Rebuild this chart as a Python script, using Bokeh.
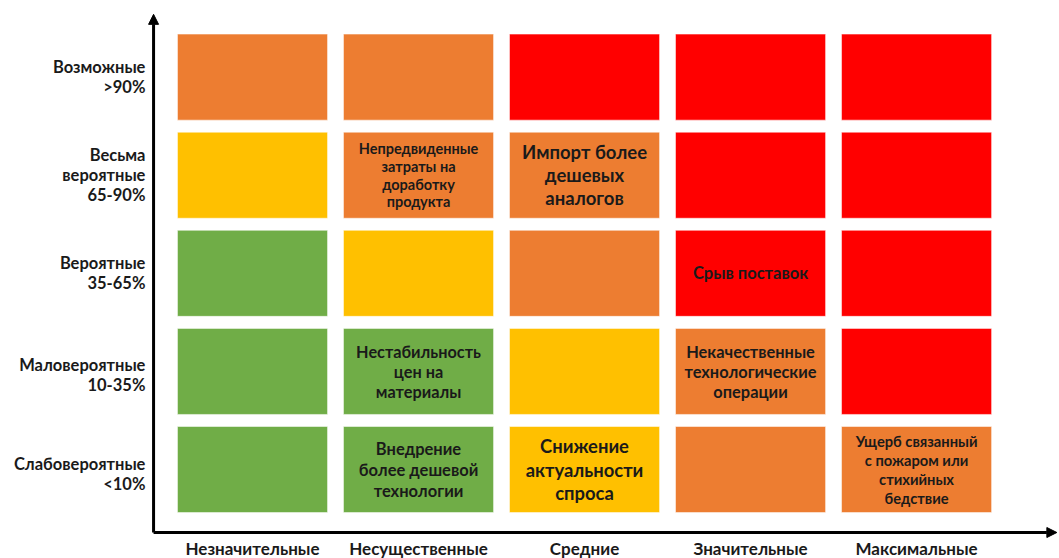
from bokeh.plotting import figure
from bokeh.models import Arrow, NormalHead, ColumnDataSource
from bokeh.core.properties import value
from bokeh.embed import file_html
from bokeh.resources import INLINE

# ---- data ----
impact = ["Незначительные", "Несущественные", "Средние", "Значительные", "Максимальные"]
likelihood = ["Слабовероятные\n<10%", "Маловероятные\n10-35%", "Вероятные\n35-65%",
              "Весьма\nвероятные\n65-90%", "Возможные\n>90%"]  # bottom -> top

# risk level per cell, rows bottom -> top, columns left -> right
levels = [
    ["green", "green", "yellow", "orange", "orange"],
    ["green", "green", "yellow", "orange", "red"],
    ["green", "yellow", "orange", "red", "red"],
    ["yellow", "orange", "orange", "red", "red"],
    ["orange", "orange", "red", "red", "red"],
]
level_colors = {"green": "#70AD47", "yellow": "#FFC000", "orange": "#ED7D31", "red": "#FF0000"}

risk_cols = [1, 2, 3, 1, 3, 1, 2, 4]
risk_rows = [3, 3, 2, 1, 1, 0, 0, 0]
risk_texts = [
    "Непредвиденные\nзатраты на\nдоработку\nпродукта",
    "Импорт более\nдешевых\nаналогов",
    "Срыв поставок",
    "Нестабильность\nцен на\nматериалы",
    "Некачественные\nтехнологические\nоперации",
    "Внедрение\nболее дешевой\nтехнологии",
    "Снижение\nактуальности\nспроса",
    "Ущерб связанный\nс пожаром или\nстихийных\nбедствие",
]
risk_sizes = ["14.5px", "18.5px", "16.5px", "16.3px", "16.4px", "16.5px", "18.4px", "14.7px"]

# ---- figure ----
p = figure(width=1059, height=558, x_range=(-1.518, 4.861), y_range=(-0.907, 4.781),
           output_backend="svg", toolbar_location=None, min_border=0,
           x_axis_type=None, y_axis_type=None)
p.xgrid.visible = False
p.ygrid.visible = False
p.outline_line_color = None
p.background_fill_color = "white"
p.border_fill_color = "white"

xs, ys, cs = [], [], []
for r, row in enumerate(levels):
    for c, lv in enumerate(row):
        xs.append(c)
        ys.append(r)
        cs.append(level_colors[lv])
src = ColumnDataSource(dict(x=xs, y=ys, color=cs))
p.rect(x="x", y="y", width=0.904, height=0.877, source=src, fill_color="color",
       line_color="#ffffff", line_alpha=0.5, line_width=1)

FONT = value("Lato")
rs = ColumnDataSource(dict(x=risk_cols, y=risk_rows, text=risk_texts, size=risk_sizes))
p.text(x="x", y="y", text="text", source=rs, text_font=FONT, text_font_style="bold",
       text_font_size="size", text_align="center", text_baseline="middle",
       text_color="#1a1a1a", text_line_height=1.05)

# axes drawn as arrows
ax0 = -0.596
ay0 = -0.642
p.add_layout(Arrow(end=NormalHead(size=10, fill_color="black", line_color="black"),
                   x_start=ax0, y_start=ay0, x_end=ax0, y_end=4.64,
                   line_width=3, line_color="black"))
p.add_layout(Arrow(end=NormalHead(size=10, fill_color="black", line_color="black"),
                   x_start=ax0, y_start=ay0, x_end=4.845, y_end=ay0,
                   line_width=3, line_color="black"))

# category labels
label_y = [i + d for i, d in zip(range(len(likelihood)), [-0.05, -0.04, 0.0, 0.0, 0.0])]
p.text(x=[-0.645] * len(likelihood), y=label_y, text=likelihood,
       text_font=FONT, text_font_style="bold", text_font_size="16.5px",
       text_align="right", text_baseline="middle", text_color="#1a1a1a",
       text_line_height=1.0)
p.text(x=list(range(len(impact))), y=[-0.80] * len(impact), text=impact,
       text_font=FONT, text_font_style="bold", text_font_size="17px",
       text_align="center", text_baseline="middle", text_color="#1a1a1a")

open("out.html", "w").write(file_html(p, INLINE))
